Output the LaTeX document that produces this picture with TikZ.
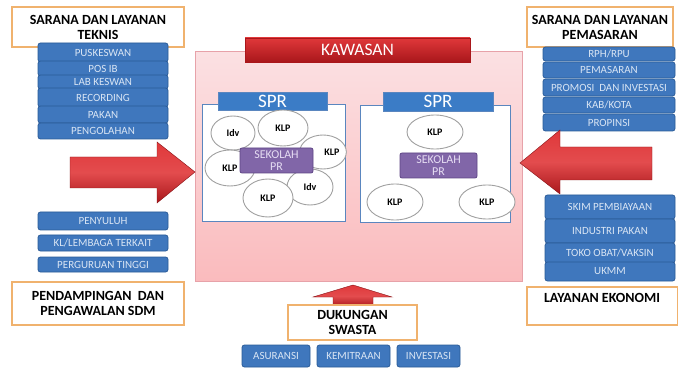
\documentclass[tikz,border=0pt]{standalone}
\usepackage{fontspec}
\setmainfont{Carlito}
\usetikzlibrary{shapes.geometric}
\definecolor{bluebox}{HTML}{3F77BD}
\definecolor{blueline}{HTML}{2A5B98}
\definecolor{bluetext}{HTML}{D9E5F4}
\definecolor{orangeline}{HTML}{F0B26E}
\definecolor{pinkfill}{HTML}{F9D3D6}
\definecolor{pinkline}{HTML}{E7A2A9}
\definecolor{sprblue}{HTML}{3B7CC6}
\definecolor{sprline}{HTML}{5A86BF}
\definecolor{purplebox}{HTML}{8166A8}
\definecolor{purpleline}{HTML}{5E4585}
\definecolor{purpletext}{HTML}{E6DDF3}
\definecolor{ellline}{HTML}{A0A0A0}
\definecolor{redtop}{HTML}{E0383A}
\definecolor{redbot}{HTML}{A9171B}
\newcommand\bx[7]{\node[#1, minimum width={#5-#3}, minimum height={#6-#4}] (#2) at ({(#3+#5)/2},{(#4+#6)/2}) {#7};}
\begin{document}
\begin{tikzpicture}[x=1pt,y=-1pt,
  bbox/.style={draw=blueline, fill=bluebox, rounded corners=2.5pt, line width=0.8pt, text=bluetext, font=\fontsize{11}{11}\selectfont, inner sep=0pt},
  obox/.style={draw=orangeline, fill=white, line width=1.2pt, font=\bfseries\fontsize{14}{15}\selectfont, align=center, inner sep=0pt},
  ell/.style={ellipse, draw=ellline, fill=white, line width=0.9pt, inner sep=0pt, font=\bfseries\fontsize{10}{10}\selectfont},
  sprhead/.style={draw=sprline, fill=sprblue, line width=0.8pt, text=white, font=\fontsize{19}{20}\selectfont, inner sep=0pt},
  sprbox/.style={draw=sprline, fill=white, line width=1pt, inner sep=0pt},
  sekolah/.style={draw=purpleline, fill=purplebox, rounded corners=2pt, line width=0.8pt, text=purpletext, align=center, font=\fontsize{12}{12}\selectfont, inner sep=0pt},
  redarrow/.style={top color=redtop, bottom color=redbot, middle color=redtop!90!white, draw=redbot!80!black, line width=0.4pt}
]
\useasboundingbox (0,0) rectangle (678,377);
\fill[white] (0,0) rectangle (678,377);

% KAWASAN
\bx{draw=pinkline, top color=pinkfill!70!white, bottom color=pinkfill!85!red!90!white, line width=1pt, inner sep=0pt}{kawasan}{195}{52}{522}{281}{}
\bx{draw=redbot, top color=redtop, bottom color=redbot, text=white, font=\fontsize{17.5}{18}\selectfont, inner sep=0pt}{kawhead}{245}{38}{470}{62}{KAWASAN}

% Left SPR
\bx{sprbox}{sprL}{202}{105}{345}{222}{}
\bx{sprhead}{sprLh}{218}{92}{327}{110}{SPR}
\node[ell, minimum width=44, minimum height=34] (idv1) at (233,133) {Idv};
\node[ell, minimum width=50, minimum height=36] (klpL) at (230,168) {KLP};
\node[ell, minimum width=46, minimum height=34] (klpR) at (323,152) {\hspace*{18pt}KLP};
\node[ell, minimum width=50, minimum height=36] (klpT) at (283,128) {KLP};
\node[ell, minimum width=46, minimum height=36] (idv2) at (310,187) {Idv};
\node[ell, minimum width=50, minimum height=38] (klpB) at (268,198) {KLP};
\bx{sekolah}{sekL}{240}{148}{313}{173}{SEKOLAH\\PR}

% Right SPR
\bx{sprbox}{sprR}{360}{106}{510}{223}{}
\bx{sprhead}{sprRh}{383}{92}{493}{111}{SPR}
\node[ell, minimum width=56, minimum height=34] (rklpT) at (435,132) {KLP};
\node[ell, minimum width=56, minimum height=36] (rklpL) at (395,202) {KLP};
\node[ell, minimum width=56, minimum height=34] (rklpR) at (487,202) {KLP};
\bx{sekolah}{sekR}{400}{153}{477}{178}{SEKOLAH\\PR}

% Left top
\bx{obox}{saranaT}{12}{7}{184}{47}{SARANA DAN LAYANAN\\TEKNIS}
\bx{bbox}{puskeswan}{38}{43}{168}{62}{PUSKESWAN}
\bx{bbox}{posib}{38}{61}{168}{76}{POS IB}
\bx{bbox}{labkeswan}{38}{75}{168}{89}{LAB KESWAN}
\bx{bbox}{recording}{38}{88}{168}{107}{RECORDING}
\bx{bbox}{pakan}{38}{106}{168}{123}{PAKAN}
\bx{bbox}{pengolahan}{38}{123}{168}{139}{PENGOLAHAN}

% Left arrow
\path[redarrow] (70,157) -- (157,157) -- (157,142) -- (195,172) -- (157,203) -- (157,188) -- (70,188) -- cycle;

% Left bottom
\bx{bbox}{penyuluh}{38}{212}{168}{230}{PENYULUH}
\bx{bbox}{kl}{38}{235}{168}{251}{KL/LEMBAGA TERKAIT}
\bx{bbox}{pt}{38}{257}{168}{272}{PERGURUAN TINGGI}
\bx{obox}{pendamping}{12}{282}{184}{325}{PENDAMPINGAN\ \ DAN\\PENGAWALAN SDM}

% Right top
\bx{obox}{saranaP}{527}{7}{673}{47}{SARANA DAN LAYANAN\\PEMASARAN}
\bx{bbox}{rph}{543}{47}{675}{61}{RPH/RPU}
\bx{bbox}{pemasaran}{543}{62}{675}{78}{PEMASARAN}
\bx{bbox}{promosi}{543}{79}{675}{96}{PROMOSI\ \ DAN INVESTASI}
\bx{bbox}{kab}{543}{97}{675}{113}{KAB/KOTA}
\bx{bbox}{propinsi}{543}{114}{675}{131}{PROPINSI}

% Right arrow
\path[redarrow] (652,147) -- (560,147) -- (560,130) -- (520,163) -- (560,194) -- (560,180) -- (652,180) -- cycle;

% Right bottom
\bx{bbox}{skim}{545}{195}{675}{219}{SKIM PEMBIAYAAN}
\bx{bbox}{industri}{545}{219}{675}{243}{INDUSTRI PAKAN}
\bx{bbox}{toko}{545}{243}{675}{263}{TOKO OBAT/VAKSIN}
\bx{bbox}{ukmm}{545}{262}{675}{281}{UKMM}
\bx{draw=orangeline, fill=white, line width=1.2pt, inner sep=0pt}{layanan}{527}{287}{678}{325}{}
\node[font=\bfseries\fontsize{14}{15}\selectfont, inner sep=0pt] (layananT) at (602,298) {LAYANAN EKONOMI};

% Bottom
\path[redarrow] (333,307) -- (333,297) -- (313,297) -- (353,285) -- (392,297) -- (373,297) -- (373,307) -- cycle;
\bx{obox}{dukungan}{288}{305}{417}{340}{DUKUNGAN\\SWASTA}
\bx{bbox}{asuransi}{242}{345}{310}{367}{ASURANSI}
\bx{bbox}{kemitraan}{317}{345}{390}{367}{KEMITRAAN}
\bx{bbox}{investasi}{397}{345}{460}{367}{INVESTASI}
\end{tikzpicture}
\end{document}
